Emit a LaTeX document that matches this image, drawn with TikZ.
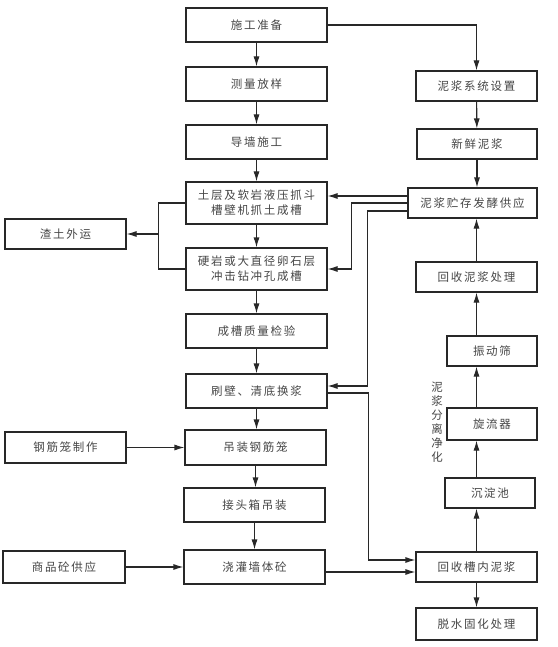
\documentclass[tikz,border=0pt]{standalone}
\usepackage{fontspec}
\newfontfamily\cjk[LetterSpace=15]{Noto Sans CJK SC}
\usepackage{xcolor}
\definecolor{lineGray}{RGB}{40,40,40}
\definecolor{textGray}{RGB}{70,70,70}
\usepackage{tikz}
\usetikzlibrary{arrows.meta,positioning,calc}
\tikzstyle{stepbox}=[rectangle, draw=lineGray, line width=1.1pt, fill=white, minimum height=34pt, inner sep=1pt, font=\cjk\fontsize{11.5}{15}\selectfont, text=textGray, align=center]
\tikzstyle{flowline}=[line width=1.1pt, color=lineGray]
\tikzstyle{flowarrow}=[-{Latex[length=10pt,width=6pt]}, line width=1.1pt, color=lineGray]

\begin{document}
\begin{tikzpicture}[x=1pt, y=-1pt]
    \useasboundingbox[fill=white] (0,0) rectangle (557,647);

    % 主流程
    \node[stepbox, minimum width=141pt] (sg) at (256.5,25)  {施工准备};
    \node[stepbox, minimum width=141pt] (cl) at (256.5,84)  {测量放样};
    \node[stepbox, minimum width=141pt] (dq) at (256.5,142) {导墙施工};
    \node[stepbox, minimum width=141pt, minimum height=42pt] (zc1) at (256.5,203)
      {土层及软岩液压抓斗\\槽壁机抓土成槽};
    \node[stepbox, minimum width=141pt, minimum height=42pt] (zc2) at (256.5,269)
      {硬岩或大直径卵石层\\冲击钻冲孔成槽};
    \node[stepbox, minimum width=141pt] (jy) at (256.5,331) {成槽质量检验};
    \node[stepbox, minimum width=141pt] (sb) at (256.5,391) {刷壁、清底换浆};
    \node[stepbox, minimum width=141pt, minimum height=35pt] (dz) at (255.5,447.5) {吊装钢筋笼};
    \node[stepbox, minimum width=141pt] (jt) at (254.5,505) {接头箱吊装};
    \node[stepbox, minimum width=141pt] (jz) at (254.5,567) {浇灌墙体砼};

    % 左侧
    \node[stepbox, minimum width=121pt, minimum height=30pt] (zt) at (65.5,234)   {渣土外运};
    \node[stepbox, minimum width=121pt, minimum height=31pt] (gj) at (65.5,447.5) {钢筋笼制作};
    \node[stepbox, minimum width=122pt, minimum height=32pt] (sp) at (64,567)     {商品砼供应};

    % 泥浆系统
    \node[stepbox, minimum width=121pt, minimum height=30pt] (nx) at (476.5,86)  {泥浆系统设置};
    \node[stepbox, minimum width=120pt, minimum height=30pt] (xx) at (477,144)   {新鲜泥浆};
    \node[stepbox, minimum width=129pt, minimum height=30pt] (nc) at (472.5,203) {泥浆贮存发酵供应};
    \node[stepbox, minimum width=121pt, minimum height=30pt] (hc) at (476.5,277) {回收泥浆处理};
    \node[stepbox, minimum width=90pt, minimum height=30pt]  (zd) at (492,351)   {振动筛};
    \node[stepbox, minimum width=90pt, minimum height=32pt]  (xl) at (492,424)   {旋流器};
    \node[stepbox, minimum width=90pt, minimum height=30pt]  (cd) at (490,493)   {沉淀池};
    \node[stepbox, minimum width=121pt, minimum height=30pt] (hn) at (476.5,567) {回收槽内泥浆};
    \node[stepbox, minimum width=121pt, minimum height=32pt] (ts) at (476.5,624) {脱水固化处理};

    \node[font=\cjk\fontsize{11.5}{14}\selectfont, text=textGray, align=center, inner sep=0pt] (fl) at (437,422)
      {泥\\浆\\分\\离\\净\\化};

    % 主流程箭头
    \draw[flowarrow] (sg) -- (cl);
    \draw[flowarrow] (cl) -- (dq);
    \draw[flowarrow] (dq) -- (zc1);
    \draw[flowarrow] (zc1) -- (zc2);
    \draw[flowarrow] (zc2) -- (jy);
    \draw[flowarrow] (jy) -- (sb);
    \draw[flowarrow] (sb.south) -- (sb.south |- dz.north);
    \draw[flowarrow] (dz.south) -- (dz.south |- jt.north);
    \draw[flowarrow] (jt) -- (jz);

    % 渣土外运
    \draw[flowline] (zc1.west) -- ++(-27,0) coordinate (j1) |- (zc2.west);
    \draw[flowarrow] (j1 |- zt.east) -- (zt.east);

    % 钢筋笼、砼
    \draw[flowarrow] (gj.east) -- (gj.east -| dz.west);
    \draw[flowarrow] (sp.east) -- (sp.east -| jz.west);

    % 泥浆系统箭头
    \draw[flowarrow] (sg.east) -| (nx.north);
    \draw[flowarrow] (nx) -- (xx);
    \draw[flowarrow] (xx.south) -- (xx.south |- nc.north);
    \draw[flowarrow] (hc.north) -- (hc.north |- nc.south);
    \draw[flowarrow] (zd.north -| hc) -- (hc.south);
    \draw[flowarrow] (xl.north -| hc) -- (zd.south -| hc);
    \draw[flowarrow] (cd.north -| hc) -- (xl.south -| hc);
    \draw[flowarrow] (hn.north) -- (cd.south -| hn);
    \draw[flowarrow] (hn) -- (ts);

    % 泥浆供应
    \draw[flowarrow] ([yshift=7pt]nc.west) -- ([yshift=7pt]zc1.east);
    \draw[flowarrow] (nc.west) -- ++(-56,0) |- (zc2.east);
    \draw[flowarrow] ([yshift=-8pt]nc.west) -- ++(-40,0) |- ([yshift=5pt]sb.east);

    % 泥浆回收
    \draw[flowarrow] ([yshift=-2pt]sb.east) -- ++(41,0) |- ([yshift=7pt]hn.west);
    \draw[flowarrow] ([yshift=-5pt]jz.east) -- ([yshift=-5pt]jz.east -| hn.west);
  \end{tikzpicture}
\end{document}
